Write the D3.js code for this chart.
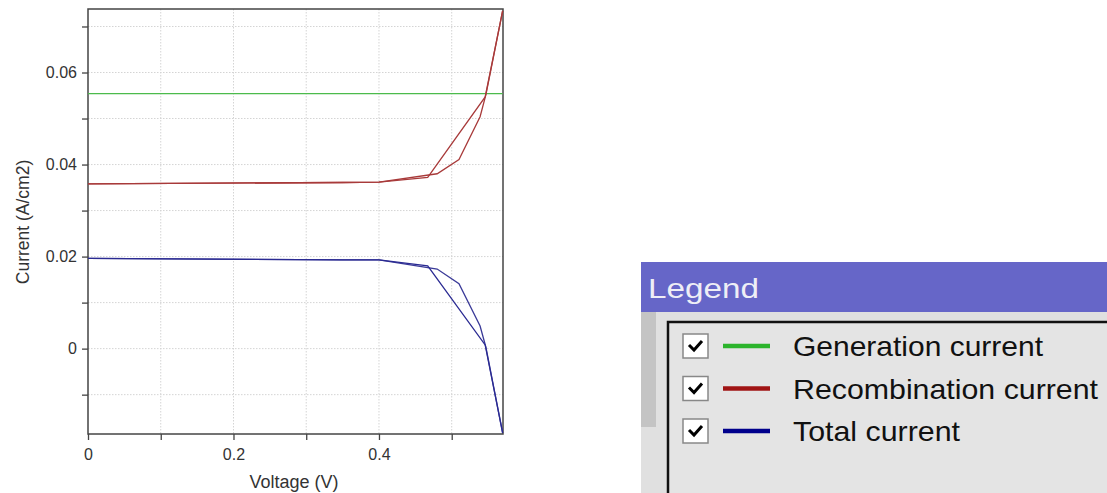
<!DOCTYPE html>
<html>
<head>
<meta charset="utf-8">
<script src="https://cdn.jsdelivr.net/npm/d3@7"></script>
<style>
  body { margin: 0; background: #fff; }
  svg { display: block; font-family: "Liberation Sans", Arial, sans-serif; }
</style>
</head>
<body>
<div id="chart"></div>
<script>
// ---- data ----
// generation current is flat
var genX = [0, 0.57];
var genY = [0.0554, 0.0554];

// recombination current, two sweeps (fine and coarse sampling)
var recFineX = [0, 0.35, 0.4, 0.48, 0.51, 0.539, 0.547, 0.57];
var recFineY = [0.0358, 0.0361, 0.0362, 0.0380, 0.0411, 0.0504, 0.0552, 0.0734];
var recCoarseX = [0, 0.35, 0.4, 0.467, 0.546, 0.57];
var recCoarseY = [0.0358, 0.0361, 0.0362, 0.0372, 0.0547, 0.0734];

// total current
var totFineX = [0, 0.35, 0.4, 0.48, 0.51, 0.539, 0.547, 0.57];
var totFineY = [0.0196, 0.0193, 0.0193, 0.0173, 0.0141, 0.0049, 0.0003, -0.0183];
var totCoarseX = [0, 0.35, 0.4, 0.467, 0.546, 0.57];
var totCoarseY = [0.0196, 0.0193, 0.0193, 0.0180, 0.0008, -0.0183];

var xTicks = [0, 0.2, 0.4];
var xMinor = [0.1, 0.3, 0.5];
var yTicks = [0, 0.02, 0.04, 0.06];
var yMinor = [-0.01, 0.01, 0.03, 0.05, 0.07];

var legendNames = ["Generation current", "Recombination current", "Total current"];
var legendColors = ["#2cb42c", "#a01414", "#00008c"];

// ---- layout ----
var width = 1107, height = 493;
var mLeft = 88, mRight = 503, mTop = 9, mBottom = 434;
var legendTextLen = [250, 305, 167];

var svg = d3.select('#chart').append('svg')
  .attr('width', width)
  .attr('height', height);

var x = d3.scaleLinear().domain([0, 0.5705]).range([mLeft, mRight]);
var y = d3.scaleLinear().domain([-0.01855, 0.0738]).range([mBottom, mTop]);

// grid (dotted, every major and minor tick)
var grid = svg.append('g').attr('stroke', '#d4d4d4').attr('stroke-dasharray', '1.5,1.5');
xTicks.concat(xMinor).filter(function(d) { return d > 0; }).forEach(function(d) {
  grid.append('line').attr('x1', x(d)).attr('x2', x(d)).attr('y1', mTop).attr('y2', mBottom);
});
yTicks.concat(yMinor).forEach(function(d) {
  grid.append('line').attr('x1', mLeft).attr('x2', mRight).attr('y1', y(d)).attr('y2', y(d));
});

// axes
var xAxis = d3.axisBottom(x).tickValues(xTicks.concat(xMinor)).tickSize(6)
  .tickFormat(function(d) { return xTicks.indexOf(d) >= 0 ? d3.format('~g')(d) : ''; });
var yAxis = d3.axisLeft(y).tickValues(yTicks.concat(yMinor)).tickSize(6)
  .tickFormat(function(d) { return yTicks.indexOf(d) >= 0 ? d3.format('~g')(d) : ''; });

var gx = svg.append('g').attr('transform', 'translate(0,' + mBottom + ')').call(xAxis);
var gy = svg.append('g').attr('transform', 'translate(' + mLeft + ',0)').call(yAxis);
[gx, gy].forEach(function(g) {
  g.select('.domain').remove();
  g.selectAll('line').attr('stroke', '#444').attr('stroke-width', 1.3);
  g.selectAll('text').attr('fill', '#333').style('font-size', '16px');
});
gx.selectAll('text').attr('dy', '1.05em');
gy.selectAll('text').attr('x', -11);

// frame
svg.append('rect')
  .attr('x', mLeft).attr('y', mTop)
  .attr('width', mRight - mLeft).attr('height', mBottom - mTop)
  .attr('fill', 'none').attr('stroke', '#444').attr('stroke-width', 1.5);

// axis titles
svg.append('text')
  .attr('x', 294).attr('y', 488)
  .attr('text-anchor', 'middle').attr('fill', '#333')
  .style('font-size', '18px')
  .text('Voltage (V)');
svg.append('text')
  .attr('transform', 'translate(29,222) rotate(-90)')
  .attr('text-anchor', 'middle').attr('fill', '#333')
  .style('font-size', '17.5px')
  .text('Current (A/cm2)');

// lines
var line = d3.line()
  .x(function(d) { return x(d[0]); })
  .y(function(d) { return y(d[1]); });

function draw(xs, ys, color) {
  svg.append('path')
    .datum(d3.zip(xs, ys))
    .attr('d', line)
    .attr('fill', 'none')
    .attr('stroke', color)
    .attr('stroke-width', 1.3);
}

var plot = [
  [genX, genY, '#4cbb4c'],
  [recFineX, recFineY, '#a83a3a'],
  [recCoarseX, recCoarseY, '#a83a3a'],
  [totFineX, totFineY, '#3a3a98'],
  [totCoarseX, totCoarseY, '#2a2a92']
];
plot.forEach(function(p) { draw(p[0], p[1], p[2]); });

// ---- legend panel ----
var lg = svg.append('g');
lg.append('rect').attr('x', 641).attr('y', 262).attr('width', width - 641).attr('height', height - 262)
  .attr('fill', '#e0e0e0');
lg.append('rect').attr('x', 641).attr('y', 262).attr('width', width - 641).attr('height', 50)
  .attr('fill', '#6666c8');
lg.append('text').attr('x', 648).attr('y', 298)
  .attr('fill', '#eeeef6').style('font-size', '28px')
  .attr('textLength', 111).attr('lengthAdjust', 'spacingAndGlyphs')
  .text('Legend');
// side strip
lg.append('rect').attr('x', 641).attr('y', 312).attr('width', 15).attr('height', 115)
  .attr('fill', '#c4c4c4');
// inner box
lg.append('rect').attr('x', 668).attr('y', 322).attr('width', width - 668 + 5).attr('height', height - 322 + 5)
  .attr('fill', '#e4e4e4').attr('stroke', '#111').attr('stroke-width', 2.5);

var rowY = d3.scalePoint().domain(legendNames).range([346, 431]);
legendNames.forEach(function(name, i) {
  var cy = rowY(name);
  lg.append('rect').attr('x', 683).attr('y', cy - 12).attr('width', 25).attr('height', 24)
    .attr('fill', '#fff').attr('stroke', '#888').attr('stroke-width', 1.5);
  lg.append('path')
    .attr('d', 'M689,' + (cy - 1) + ' L694,' + (cy + 4) + ' L702,' + (cy - 5))
    .attr('fill', 'none').attr('stroke', '#000').attr('stroke-width', 3);
  lg.append('line').attr('x1', 723).attr('x2', 770).attr('y1', cy).attr('y2', cy)
    .attr('stroke', legendColors[i]).attr('stroke-width', 4.5);
  lg.append('text').attr('x', 793).attr('y', cy + 10)
    .attr('fill', '#111').style('font-size', '28px')
    .attr('textLength', legendTextLen[i]).attr('lengthAdjust', 'spacingAndGlyphs')
    .text(name);
});
</script>
</body>
</html>
